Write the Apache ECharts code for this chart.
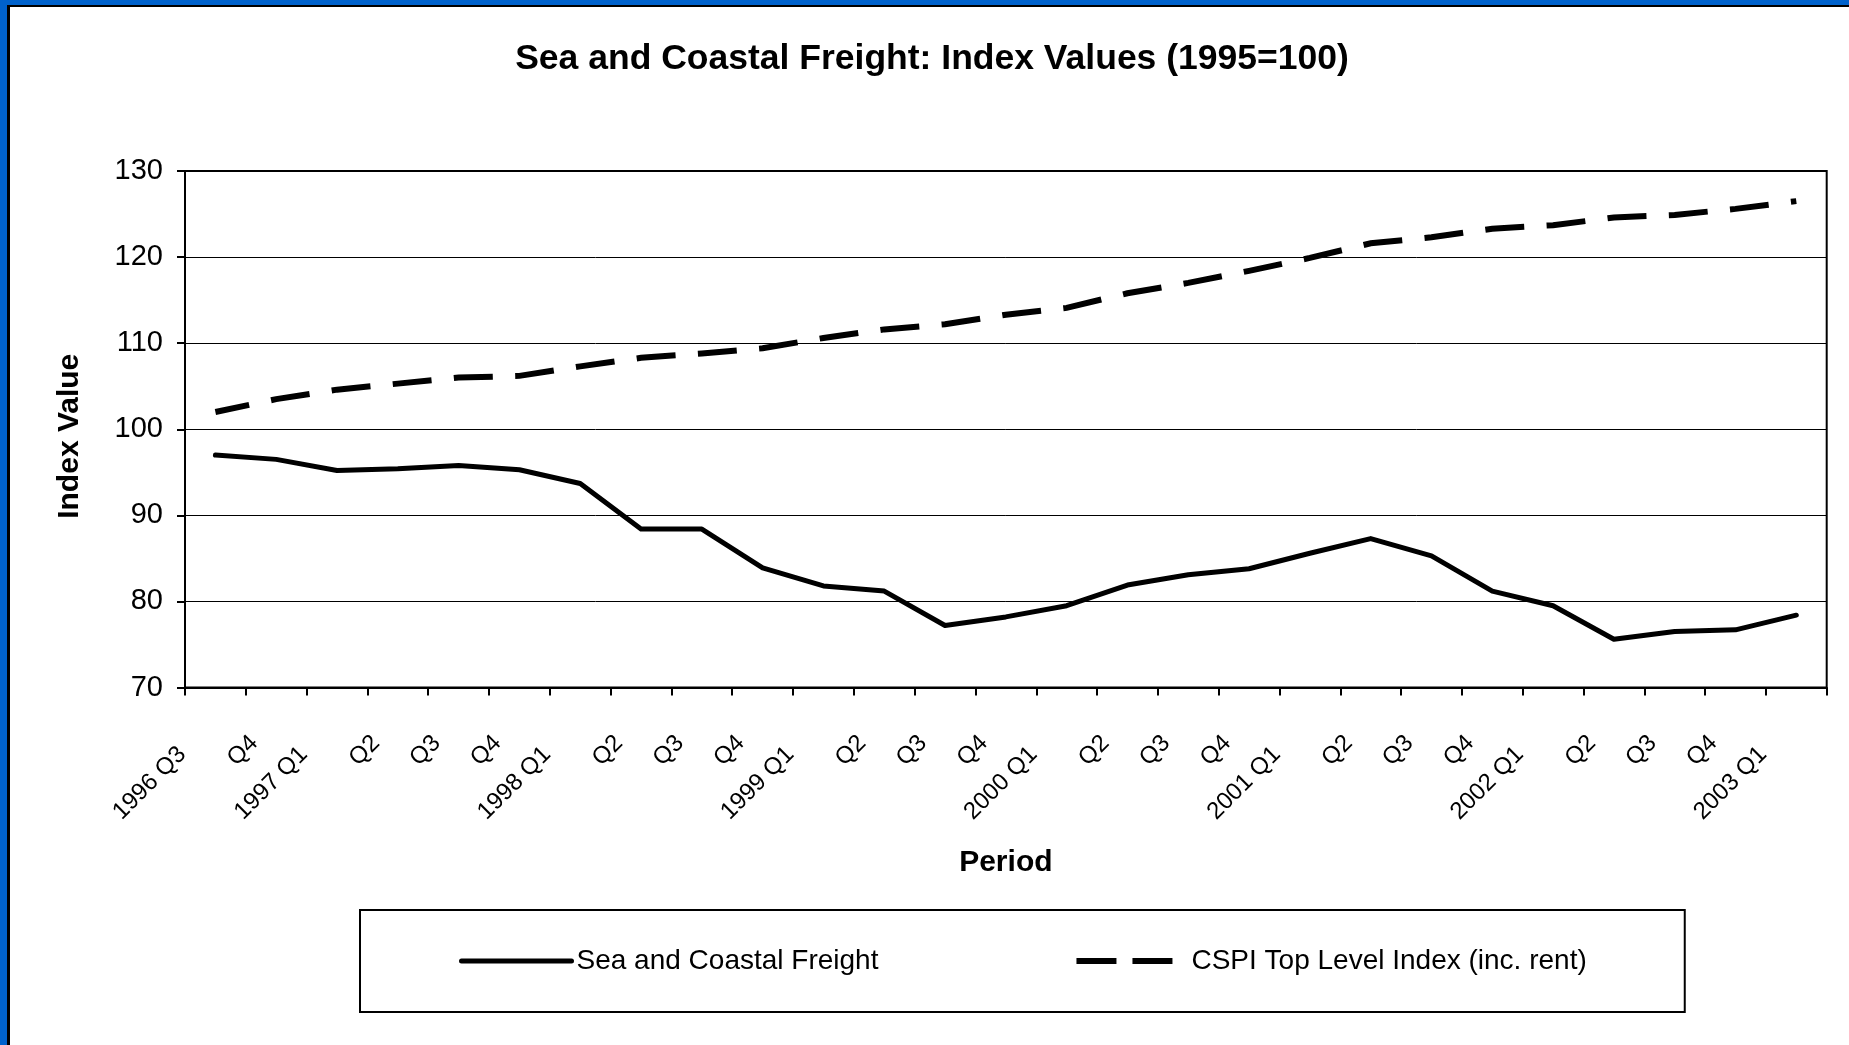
<!DOCTYPE html>
<html>
<head>
<meta charset="utf-8">
<script src="https://cdn.jsdelivr.net/npm/echarts@6/dist/echarts.min.js"></script>
<style>
  html, body { margin: 0; padding: 0; background: #fff; }
  #chart { width: 1849px; height: 1045px; }
</style>
</head>
<body>
<div id="chart"></div>
<script>
// ---- data ----
const categories = ['1996 Q3','Q4','1997 Q1','Q2','Q3','Q4','1998 Q1','Q2','Q3','Q4','1999 Q1','Q2','Q3','Q4','2000 Q1','Q2','Q3','Q4','2001 Q1','Q2','Q3','Q4','2002 Q1','Q2','Q3','Q4','2003 Q1'];
const seaFreight = [97.0, 96.5, 95.2, 95.4, 95.8, 95.3, 93.7, 88.4, 88.4, 83.9, 81.8, 81.2, 77.2, 78.2, 79.5, 81.9, 83.1, 83.8, 85.6, 87.3, 85.3, 81.2, 79.5, 75.6, 76.5, 76.7, 78.4];
const cspiIndex = [102.0, 103.5, 104.6, 105.3, 106.0, 106.2, 107.3, 108.3, 108.8, 109.4, 110.6, 111.6, 112.2, 113.3, 114.1, 115.8, 117.0, 118.4, 119.9, 121.6, 122.3, 123.3, 123.7, 124.6, 124.9, 125.6, 126.5];
const seriesNames = ['Sea and Coastal Freight', 'CSPI Top Level Index (inc. rent)'];
const yTicks = { min: 70, max: 130, interval: 10 };
const titleText = 'Sea and Coastal Freight: Index Values (1995=100)';
const xAxisTitle = 'Period';
const yAxisTitle = 'Index Value';

// ---- chart ----
const FONT = "'Liberation Sans', Arial, sans-serif";
const BLUE = '#0062CC';
const chart = echarts.init(document.getElementById('chart'), null, { renderer: 'canvas' });

const hiddenDot = { color: 'rgba(0,0,0,0)', borderWidth: 0, opacity: 0 };

const option = {
  animation: false,
  backgroundColor: '#ffffff',
  textStyle: { fontFamily: FONT, color: '#000' },
  title: {
    text: titleText,
    left: 927,
    top: 36,
    textAlign: 'center',
    textStyle: { fontFamily: FONT, fontSize: 35.5, fontWeight: 'bold', color: '#000' }
  },
  grid: {
    left: 185, right: 22.3, top: 171, bottom: 357.5,
    show: true, borderColor: '#000', borderWidth: 2, backgroundColor: 'transparent'
  },
  legend: {
    left: 360, top: 910,
    orient: 'horizontal',
    padding: [37, 98, 37, 99],
    borderColor: '#000', borderWidth: 2,
    itemWidth: 110, itemHeight: 14, itemGap: 195,
    textStyle: { fontFamily: FONT, fontSize: 28, color: '#000' },
    lineStyle: { width: 5 },
    itemStyle: hiddenDot,
    data: [
      { name: seriesNames[0], lineStyle: { width: 5, type: 'solid', cap: 'round' }, itemStyle: hiddenDot },
      { name: seriesNames[1], lineStyle: { width: 6, type: [40, 16], dashOffset: 0, cap: 'butt' }, itemStyle: hiddenDot }
    ]
  },
  xAxis: {
    type: 'category',
    data: categories,
    boundaryGap: true,
    name: xAxisTitle,
    nameLocation: 'middle',
    nameGap: 160,
    nameTextStyle: { fontFamily: FONT, fontSize: 30, fontWeight: 'bold', color: '#000' },
    axisLine: { show: true, lineStyle: { color: '#000', width: 2 } },
    axisTick: { show: true, length: 8, lineStyle: { color: '#000', width: 2 } },
    axisLabel: {
      interval: 0, rotate: 45, margin: 30,
      fontFamily: FONT, fontSize: 24, color: '#000',
      formatter: function (v) { return v.indexOf(' ') >= 0 ? '{y|' + v + '}' : '{q|' + v + '}'; },
      rich: {
        y: { fontFamily: FONT, fontSize: 24, color: '#000', padding: [0, 47, 0, 0] },
        q: { fontFamily: FONT, fontSize: 24, color: '#000', padding: [0, 31, 0, 0] }
      }
    },
    splitLine: { show: false }
  },
  yAxis: {
    type: 'value',
    min: yTicks.min, max: yTicks.max, interval: yTicks.interval,
    name: yAxisTitle,
    nameLocation: 'middle',
    nameGap: 100,
    nameTextStyle: { fontFamily: FONT, fontSize: 30, fontWeight: 'bold', color: '#000', padding: [0, 14, 0, 0] },
    axisLine: { show: true, lineStyle: { color: '#000', width: 2 } },
    axisTick: { show: true, length: 8, lineStyle: { color: '#000', width: 2 } },
    axisLabel: { fontFamily: FONT, fontSize: 29, color: '#000', margin: 22 },
    splitLine: { show: true, lineStyle: { color: '#000', width: 1 } }
  },
  series: [
    {
      name: seriesNames[0], type: 'line', data: seaFreight,
      symbol: 'none', showSymbol: false,
      itemStyle: { color: '#000' },
      lineStyle: { color: '#000', width: 5, cap: 'round', join: 'round' }
    },
    {
      name: seriesNames[1], type: 'line', data: cspiIndex,
      symbol: 'none', showSymbol: false,
      itemStyle: { color: '#000' },
      lineStyle: { color: '#000', width: 6, type: [39, 22.4], dashOffset: 4.5, cap: 'butt', join: 'miter' }
    }
  ],
  graphic: [
    { type: 'rect', z: 100, shape: { x: 0, y: 0, width: 1849, height: 5 }, style: { fill: BLUE } },
    { type: 'rect', z: 100, shape: { x: 7, y: 5, width: 1842, height: 2 }, style: { fill: '#000' } },
    { type: 'rect', z: 100, shape: { x: 0, y: 0, width: 7, height: 1045 }, style: { fill: BLUE } },
    { type: 'rect', z: 100, shape: { x: 7, y: 5, width: 3, height: 1040 }, style: { fill: '#000' } }
  ]
};
chart.setOption(option);
</script>
</body>
</html>
